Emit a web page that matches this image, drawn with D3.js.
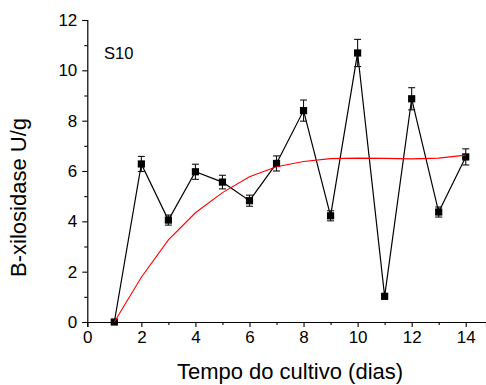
<!DOCTYPE html>
<html>
<head>
<meta charset="utf-8">
<script src="https://cdn.jsdelivr.net/npm/d3@7"></script>
<style>
  html, body { margin: 0; padding: 0; background: #fff; }
  svg { display: block; }
  text { font-family: "Liberation Sans", Arial, sans-serif; fill: #000; }
</style>
</head>
<body>
<script>
// Cultivation days
const days = [1, 2, 3, 4, 5, 6, 7, 8, 9, 10, 11, 12, 13, 14];
// Measured β-xylosidase activity (U/g) and standard deviation
const activity = [0, 6.28, 4.05, 5.97, 5.56, 4.82, 6.30, 8.40, 4.22, 10.69, 1.02, 8.87, 4.37, 6.56];
const stdDev   = [0, 0.30, 0.20, 0.30, 0.27, 0.22, 0.30, 0.42, 0.20, 0.54, 0.00, 0.44, 0.20, 0.32];
// Fitted trend curve
const fitted   = [0, 1.78, 3.26, 4.34, 5.14, 5.77, 6.17, 6.38, 6.49, 6.51, 6.50, 6.48, 6.51, 6.63];
// Axis ticks
const xMajorTicks = [0, 2, 4, 6, 8, 10, 12, 14];
const xMinorTicks = [1, 3, 5, 7, 9, 11, 13];
const yMajorTicks = [0, 2, 4, 6, 8, 10, 12];
const yMinorTicks = [1, 3, 5, 7, 9, 11];
const sampleLabel = "S10";
const xTitle = "Tempo do cultivo (dias)";
const yTitle = "B-xilosidase U/g";

const W = 486, H = 385;
const svg = d3.select("body").append("svg").attr("width", W).attr("height", H);

const x = d3.scaleLinear().domain([0, 14.75]).range([87.3, 486]);
const y = d3.scaleLinear().domain([0, 12]).range([322, 20]);

// Axes
const gx = svg.append("g").attr("transform", `translate(0,${y(0)})`);
gx.call(d3.axisBottom(x).tickValues(xMajorTicks).tickSize(5).tickPadding(4).tickFormat(d3.format("d")));
gx.append("g").call(d3.axisBottom(x).tickValues(xMinorTicks).tickSize(3).tickFormat(""))
  .select(".domain").remove();

const gy = svg.append("g").attr("transform", `translate(${x(0)},0)`);
gy.call(d3.axisLeft(y).tickValues(yMajorTicks).tickSize(5).tickPadding(5).tickFormat(d3.format("d")));
gy.append("g").call(d3.axisLeft(y).tickValues(yMinorTicks).tickSize(3).tickFormat(""))
  .select(".domain").remove();

svg.selectAll(".domain").attr("stroke", "#000").attr("stroke-width", 1.2);
svg.selectAll(".tick line").attr("stroke", "#000").attr("stroke-width", 1.1);
svg.selectAll(".tick text").style("font-size", "17px")
  .style("font-family", "'Liberation Sans', Arial, sans-serif");

// Measured series: connecting line
const pts = days.map((d, i) => ({ d, v: activity[i], e: stdDev[i], f: fitted[i] }));
svg.append("path")
  .datum(pts)
  .attr("fill", "none")
  .attr("stroke", "#000")
  .attr("stroke-width", 1.2)
  .attr("d", d3.line().x(p => x(p.d)).y(p => y(p.v)));

// Error bars
const eb = svg.append("g").attr("stroke", "#111").attr("stroke-width", 1.1);
pts.filter(p => p.e > 0).forEach(p => {
  const cx = x(p.d), top = y(p.v + p.e), bot = y(p.v - p.e);
  eb.append("line").attr("x1", cx).attr("x2", cx).attr("y1", top).attr("y2", bot);
  eb.append("line").attr("x1", cx - 3.5).attr("x2", cx + 3.5).attr("y1", top).attr("y2", top);
  eb.append("line").attr("x1", cx - 3.5).attr("x2", cx + 3.5).attr("y1", bot).attr("y2", bot);
});

// Square markers
svg.append("g").selectAll("rect").data(pts).join("rect")
  .attr("x", p => x(p.d) - 3.6)
  .attr("y", p => y(p.v) - 3.6)
  .attr("width", 7.2)
  .attr("height", 7.2)
  .attr("fill", "#000");

// Fitted curve
svg.append("path")
  .datum(pts)
  .attr("fill", "none")
  .attr("stroke", "#ff0000")
  .attr("stroke-width", 1.1)
  .attr("d", d3.line().x(p => x(p.d)).y(p => y(p.f)));

// Sample label
svg.append("text")
  .attr("x", 104).attr("y", 59)
  .style("font-size", "16.5px")
  .text(sampleLabel);

// Axis titles
svg.append("text")
  .attr("x", 290).attr("y", 379)
  .attr("text-anchor", "middle")
  .style("font-size", "22px")
  .text(xTitle);

svg.append("text")
  .attr("transform", "translate(26,197.5) rotate(-90)")
  .attr("text-anchor", "middle")
  .style("font-size", "22px")
  .text(yTitle);
</script>
</body>
</html>
